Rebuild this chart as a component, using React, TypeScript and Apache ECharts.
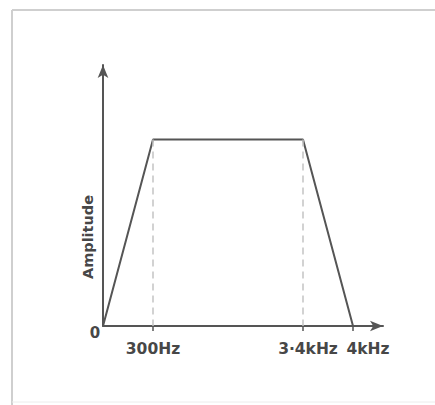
import React, { useEffect, useRef } from "react";
import * as echarts from "echarts";

// Schematic frequency response (trapezoid band-pass sketch)
const freqLabels = ["0", "300Hz", "3·4kHz", "4kHz"];
const xPositions = [0, 1, 4, 5]; // schematic (non-linear) positions along the axis
const amplitude = [0, 1, 1, 0];
const labelShift: Record<string, number> = { "300Hz": 0, "3·4kHz": 10, "4kHz": 30 };

const FONT = "'DejaVu Sans', sans-serif";

export default function App() {
  const ref = useRef<HTMLDivElement>(null);
  useEffect(() => {
    document.body.style.margin = "0";
    if (!ref.current) return;
    const chart = echarts.init(ref.current, undefined, { renderer: "svg" });
    const lineColor = "#555";
    const textColor = "#474747";
    const tickVals = xPositions.slice(1);
    const rich: Record<string, any> = {};
    freqLabels.forEach((l, i) => {
      rich["l" + i] = {
        fontFamily: FONT,
        fontWeight: "bold",
        fontSize: 15.5,
        color: textColor,
        padding: [0, 0, 0, labelShift[l] || 0],
      };
    });
    chart.setOption({
      animation: false,
      backgroundColor: "#fff",
      grid: { left: 103, right: 52, top: 65, bottom: 79 },
      xAxis: {
        type: "value",
        min: 0,
        max: 5.6,
        splitLine: { show: false },
        axisLine: {
          show: true,
          onZero: false,
          symbol: ["none", "arrow"],
          symbolSize: [8, 13],
          lineStyle: { color: lineColor, width: 2 },
        },
        axisTick: {
          show: true,
          customValues: tickVals,
          length: 5,
          lineStyle: { color: lineColor, width: 1.5 },
        },
        axisLabel: {
          show: true,
          customValues: tickVals,
          margin: 15,
          formatter: (v: number) => {
            const i = xPositions.indexOf(Math.round(v));
            return i >= 0 ? "{l" + i + "|" + freqLabels[i] + "}" : "";
          },
          rich,
        },
      },
      yAxis: {
        type: "value",
        min: 0,
        max: 1.4,
        splitLine: { show: false },
        axisTick: { show: false },
        axisLabel: { show: false },
        axisLine: {
          show: true,
          symbol: ["none", "arrow"],
          symbolSize: [8, 13],
          lineStyle: { color: lineColor, width: 2 },
        },
      },
      graphic: [
        { type: "line", shape: { x1: 12, y1: 10, x2: 12, y2: 405 }, style: { stroke: "#cfcfcf", lineWidth: 2 } },
        { type: "line", shape: { x1: 12, y1: 10, x2: 435, y2: 10 }, style: { stroke: "#cfcfcf", lineWidth: 2 } },
        { type: "line", shape: { x1: 12, y1: 402, x2: 435, y2: 402 }, style: { stroke: "#ececec", lineWidth: 1 } },
        {
          type: "text",
          x: 88,
          y: 237,
          rotation: Math.PI / 2,
          style: {
            text: "Amplitude",
            fontFamily: FONT,
            fontWeight: "bold",
            fontSize: 14.5,
            fill: textColor,
            align: "center",
            verticalAlign: "middle",
          },
        },
        {
          type: "text",
          x: 95,
          y: 333,
          style: {
            text: freqLabels[0],
            fontFamily: FONT,
            fontWeight: "bold",
            fontSize: 15,
            fill: textColor,
            align: "center",
            verticalAlign: "middle",
          },
        },
      ],
      series: [
        {
          type: "line",
          data: xPositions.map((x, i) => [x, amplitude[i]]),
          symbol: "none",
          lineStyle: { color: lineColor, width: 2 },
          markLine: {
            silent: true,
            symbol: "none",
            label: { show: false },
            lineStyle: { color: "#c4c4c4", type: [7, 5], width: 1.5 },
            data: xPositions
              .map((x, i) => (amplitude[i] > 0 ? [{ coord: [x, amplitude[i]] }, { coord: [x, 0] }] : null))
              .filter(Boolean),
          },
        },
      ],
    });
    return () => chart.dispose();
  }, []);
  return <div ref={ref} style={{ width: 435, height: 405 }} />;
}
